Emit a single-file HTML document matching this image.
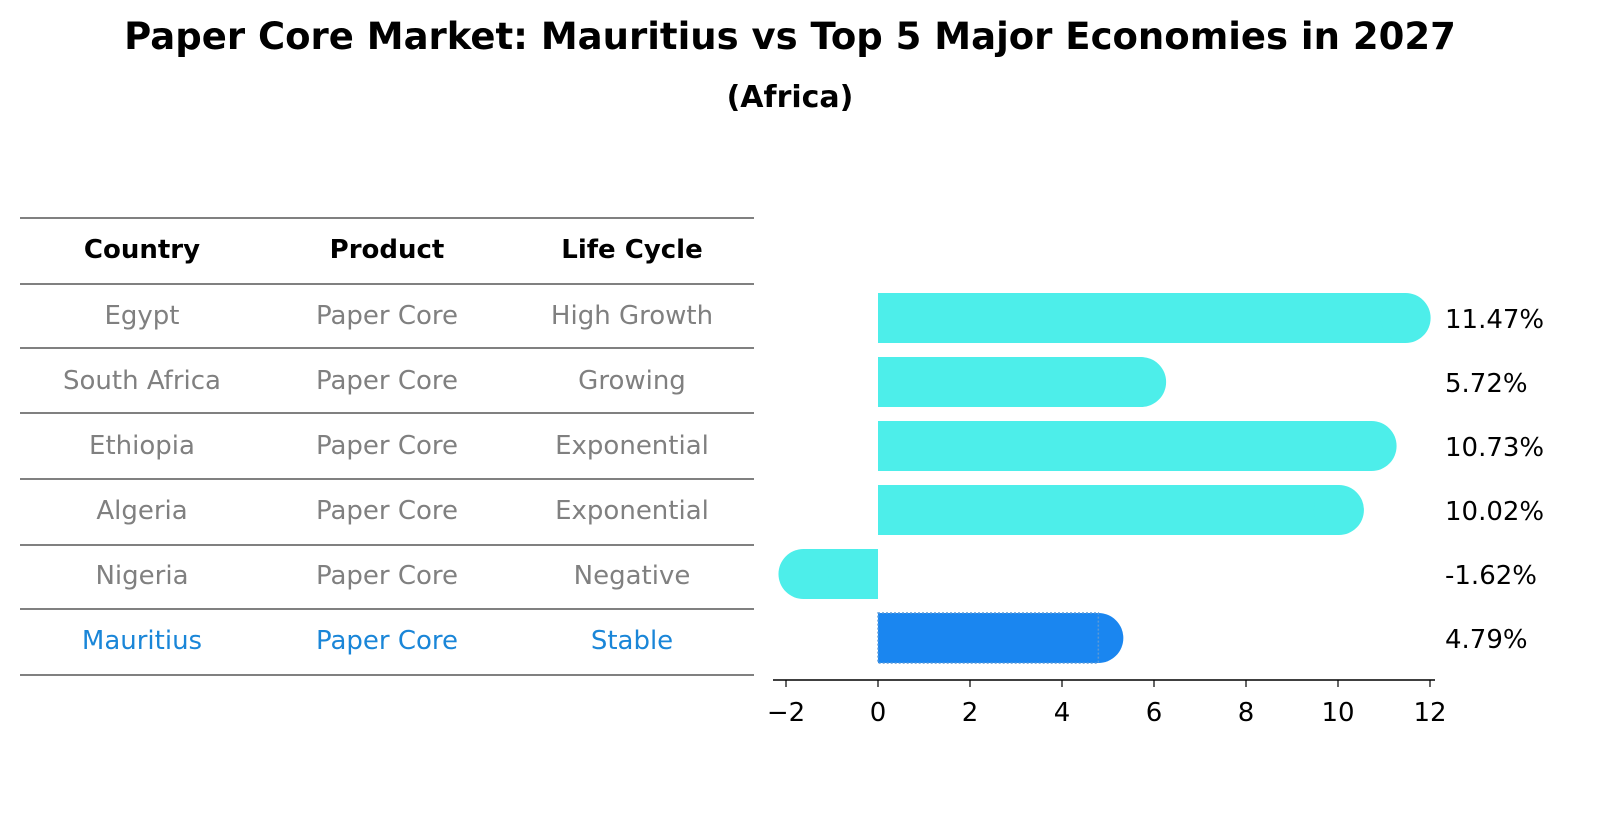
<!DOCTYPE html>
<html><head><meta charset="utf-8"><style>
body{margin:0;background:#fff;font-family:"Liberation Sans","DejaVu Sans",sans-serif;}
svg text{font-family:"DejaVu Sans","Liberation Sans",sans-serif;}
</style></head><body>
<svg id="chart" width="1604" height="823" xmlns="http://www.w3.org/2000/svg">
<text x="790" y="49" text-anchor="middle" font-size="37" font-weight="bold">Paper Core Market: Mauritius vs Top 5 Major Economies in 2027</text>
<text x="790" y="107" text-anchor="middle" font-size="30" font-weight="bold">(Africa)</text>
<g id="table"></g>
<g id="bars"></g>
<g id="axis"></g>
</svg>
<script>
const countries=["Egypt","South Africa","Ethiopia","Algeria","Nigeria","Mauritius"];
const products=["Paper Core","Paper Core","Paper Core","Paper Core","Paper Core","Paper Core"];
const lifeCycles=["High Growth","Growing","Exponential","Exponential","Negative","Stable"];
const values=[11.47,5.72,10.73,10.02,-1.62,4.79];
const valueLabels=["11.47%","5.72%","10.73%","10.02%","-1.62%","4.79%"];
const ticks=[-2,0,2,4,6,8,10,12];
const tickLabels=["\u22122","0","2","4","6","8","10","12"];
const NS="http://www.w3.org/2000/svg";
function mk(tag,attrs,parent,text){const e=document.createElementNS(NS,tag);for(const k in attrs)e.setAttribute(k,attrs[k]);if(text!==undefined)e.textContent=text;parent.appendChild(e);return e;}
const xs=v=>878+v*46;
const ys=i=>318+i*64;
// table
const tb=document.getElementById('table');
const lineY=[218,284,348,413,479,545,609,675];
lineY.forEach(y=>{const l=mk('line',{x1:20,x2:754,y1:y,y2:y,stroke:'#000','stroke-width':1},tb);

});
const colX=[142,387,632];
["Country","Product","Life Cycle"].forEach((h,j)=>{const t=mk('text',{x:colX[j],y:258,'text-anchor':'middle','font-size':26,'font-weight':'bold'},tb,h);

});
countries.forEach((c,i)=>{const col=c==="Mauritius"?'#1a86d8':'#808080';const y=324+i*65;
[c,products[i],lifeCycles[i]].forEach((s,j)=>{const t=mk('text',{x:colX[j],y:y,'text-anchor':'middle','font-size':26,fill:col},tb,s);

});});
// bars
const bg=document.getElementById('bars');
values.forEach((v,i)=>{const hl=countries[i]==="Mauritius";const col=hl?'#1a86f0':'#4deeea';const cy=ys(i);const h=50;
const x0=Math.min(xs(0),xs(v)),w=Math.abs(xs(v)-xs(0));
const g=mk('g',{},bg);


mk('rect',{x:x0,y:cy-h/2,width:w,height:h,fill:col},g);
mk('circle',{cx:xs(v),cy:cy,r:h/2,fill:col},g);
if(hl)mk('rect',{x:x0,y:cy-h/2,width:w,height:h,fill:'none',stroke:'#5a9ad8','stroke-width':1.5,'stroke-dasharray':'2,2'},g);
const t=mk('text',{x:1445,y:cy+10,'font-size':26},bg,valueLabels[i]);

});
// axis
const ax=document.getElementById('axis');
mk('line',{x1:773,x2:1435,y1:680,y2:680,stroke:'#000','stroke-width':1.5},ax);
ticks.forEach((t,i)=>{mk('line',{x1:xs(t),x2:xs(t),y1:680,y2:687,stroke:'#000','stroke-width':1.2},ax);
const l=mk('text',{x:xs(t),y:721,'text-anchor':'middle','font-size':26},ax,tickLabels[i]);

});
</script>
</body></html>
